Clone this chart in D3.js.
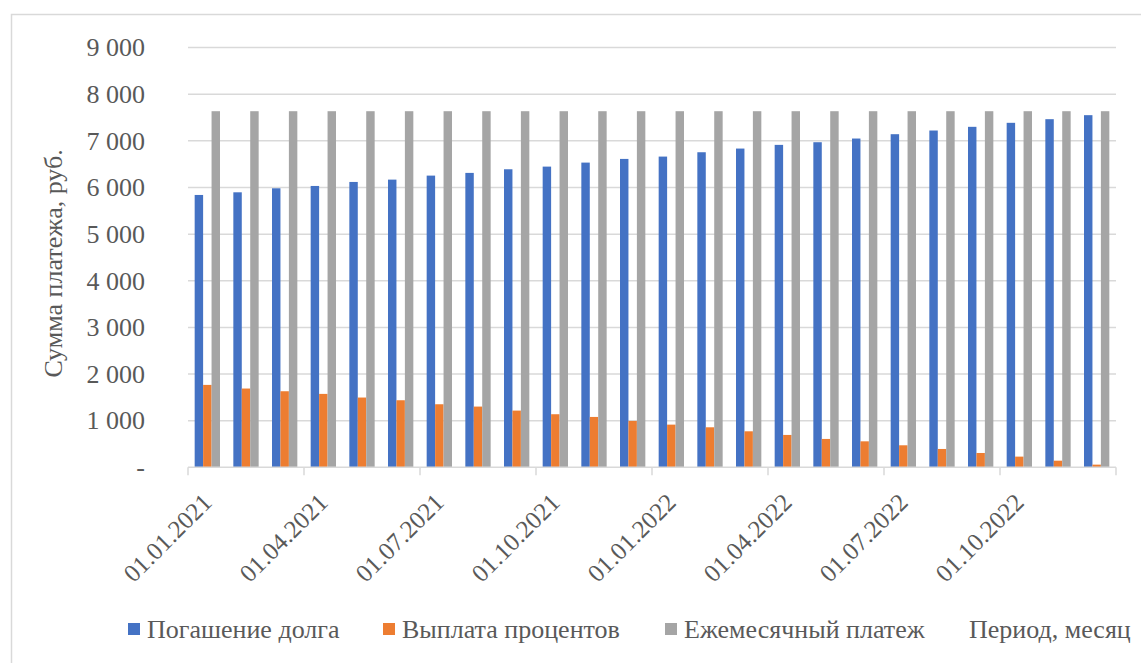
<!DOCTYPE html>
<html>
<head>
<meta charset="utf-8">
<script src="https://cdn.jsdelivr.net/npm/d3@7"></script>
<style>
  html, body { margin: 0; padding: 0; background: #fff; }
  svg { display: block; }
  svg text { font-family: "Liberation Serif", "DejaVu Serif", "Times New Roman", serif; fill: #595959; }
</style>
</head>
<body>
<svg id="chart" width="1141" height="663"></svg>
<script>
// Loan repayment schedule, monthly, 2021–2022
const months = [
  "01.01.2021", "01.02.2021", "01.03.2021", "01.04.2021", "01.05.2021", "01.06.2021",
  "01.07.2021", "01.08.2021", "01.09.2021", "01.10.2021", "01.11.2021", "01.12.2021",
  "01.01.2022", "01.02.2022", "01.03.2022", "01.04.2022", "01.05.2022", "01.06.2022",
  "01.07.2022", "01.08.2022", "01.09.2022", "01.10.2022", "01.11.2022", "01.12.2022"
];
// Погашение долга (principal part)
const principal = [
  5840, 5897, 5983, 6033, 6119, 6169, 6255, 6313, 6391, 6448, 6534, 6613,
  6663, 6756, 6835, 6914, 6971, 7050, 7143, 7222, 7301, 7387, 7465, 7551
];
// Выплата процентов (interest part)
const interest = [
  1767, 1689, 1631, 1574, 1496, 1438, 1352, 1302, 1216, 1138, 1080, 994,
  915, 858, 772, 694, 608, 557, 472, 393, 307, 229, 142, 57
];
// Ежемесячный платеж (monthly payment)
const payment = [
  7636, 7636, 7636, 7636, 7636, 7636, 7636, 7636, 7636, 7636, 7636, 7636,
  7636, 7636, 7636, 7636, 7636, 7636, 7636, 7636, 7636, 7636, 7636, 7636
];
const seriesNames = ["Погашение долга", "Выплата процентов", "Ежемесячный платеж"];
const seriesColors = ["#4472C4", "#ED7D31", "#A5A5A5"];
const yTickValues = [0, 1000, 2000, 3000, 4000, 5000, 6000, 7000, 8000, 9000];
const xLabelMonths = ["01.01.2021", "01.04.2021", "01.07.2021", "01.10.2021",
                      "01.01.2022", "01.04.2022", "01.07.2022", "01.10.2022"];
const yTitle = "Сумма платежа, руб.";
const xTitle = "Период, месяц";

const FONT = "'Liberation Serif', 'DejaVu Serif', 'Times New Roman', serif";

const seriesValues = [principal, interest, payment];
const rows = months.map((m, i) => ({ month: m, values: seriesValues.map(s => s[i]) }));

const svg = d3.select("#chart").attr("font-family", FONT);
const plot = { left: 188, right: 1116, top: 47.6, bottom: 467.3 };

// outer frame of the chart area
svg.append("rect")
  .attr("x", 11.5).attr("y", 14.5)
  .attr("width", 1200).attr("height", 700)
  .attr("fill", "none").attr("stroke", "#d9d9d9").attr("stroke-width", 1.5);

const y = d3.scaleLinear().domain([0, 9000]).range([plot.bottom, plot.top]);
const x = d3.scaleBand().domain(months).range([plot.left, plot.right])
  .paddingInner(0.345).paddingOuter(0.1725);
const xs = d3.scaleBand().domain(d3.range(seriesNames.length)).range([0, x.bandwidth()]);

const fmt = v => v === 0 ? "-" : d3.format(",")(v).replace(/,/g, "\u00a0");

// horizontal gridlines
svg.append("g")
  .selectAll("line")
  .data(yTickValues.filter(v => v > 0))
  .join("line")
  .attr("x1", plot.left).attr("x2", plot.right)
  .attr("y1", d => y(d)).attr("y2", d => y(d))
  .attr("stroke", "#d9d9d9").attr("stroke-width", 1.5);

// y axis labels
const yAxis = d3.axisLeft(y).tickValues(yTickValues).tickFormat(fmt).tickSize(0).tickPadding(43);
const yG = svg.append("g").attr("transform", `translate(${plot.left},0)`).call(yAxis);
yG.attr("font-family", FONT);
yG.select(".domain").remove();
yG.selectAll("text")
  .style("font-family", FONT)
  .style("font-size", "26px").attr("fill", "#595959");

// bars
const groups = svg.append("g")
  .selectAll("g")
  .data(rows)
  .join("g")
  .attr("transform", d => `translate(${x(d.month)},0)`);
groups.selectAll("rect")
  .data(d => d.values.map((v, k) => ({ k, v })))
  .join("rect")
  .attr("x", d => xs(d.k))
  .attr("width", xs.bandwidth())
  .attr("y", d => y(d.v))
  .attr("height", d => y(0) - y(d.v))
  .attr("fill", d => seriesColors[d.k]);

// category axis: baseline and ticks every third month
const step = x.step();
const tickXs = d3.range(0, months.length + 1, 3).map(i => plot.left + i * step);
svg.append("line")
  .attr("x1", plot.left).attr("x2", plot.right)
  .attr("y1", plot.bottom).attr("y2", plot.bottom)
  .attr("stroke", "#d9d9d9").attr("stroke-width", 1.5);
svg.append("g")
  .selectAll("line")
  .data(tickXs)
  .join("line")
  .attr("x1", d => d).attr("x2", d => d)
  .attr("y1", plot.bottom).attr("y2", plot.bottom + 8)
  .attr("stroke", "#d9d9d9").attr("stroke-width", 1.5);

// rotated date labels
svg.append("g")
  .selectAll("text")
  .data(xLabelMonths)
  .join("text")
  .attr("transform", d => `translate(${x(d) + x.bandwidth() / 2 + 6},504) rotate(-45)`)
  .attr("text-anchor", "end")
  .style("font-family", FONT)
  .style("font-size", "25px")
  .text(d => d);

// y axis title
svg.append("text")
  .attr("transform", `translate(62,${(plot.top + plot.bottom) / 2 + 6}) rotate(-90)`)
  .attr("text-anchor", "middle")
  .style("font-family", FONT)
  .style("font-size", "26px")
  .text(yTitle);

// legend
const legendX = [128, 383, 665];
const legend = svg.append("g")
  .selectAll("g")
  .data(seriesNames)
  .join("g")
  .attr("transform", (d, i) => `translate(${legendX[i]},0)`);
legend.append("rect")
  .attr("x", 0).attr("y", 623).attr("width", 12).attr("height", 12)
  .attr("fill", (d, i) => seriesColors[i]);
legend.append("text")
  .attr("x", 19).attr("y", 638)
  .style("font-family", FONT)
  .style("font-size", "26px")
  .text(d => d);

// x axis title placed in the legend row
svg.append("text")
  .attr("x", 969).attr("y", 638)
  .style("font-family", FONT)
  .style("font-size", "26px")
  .text(xTitle);
</script>
</body>
</html>
